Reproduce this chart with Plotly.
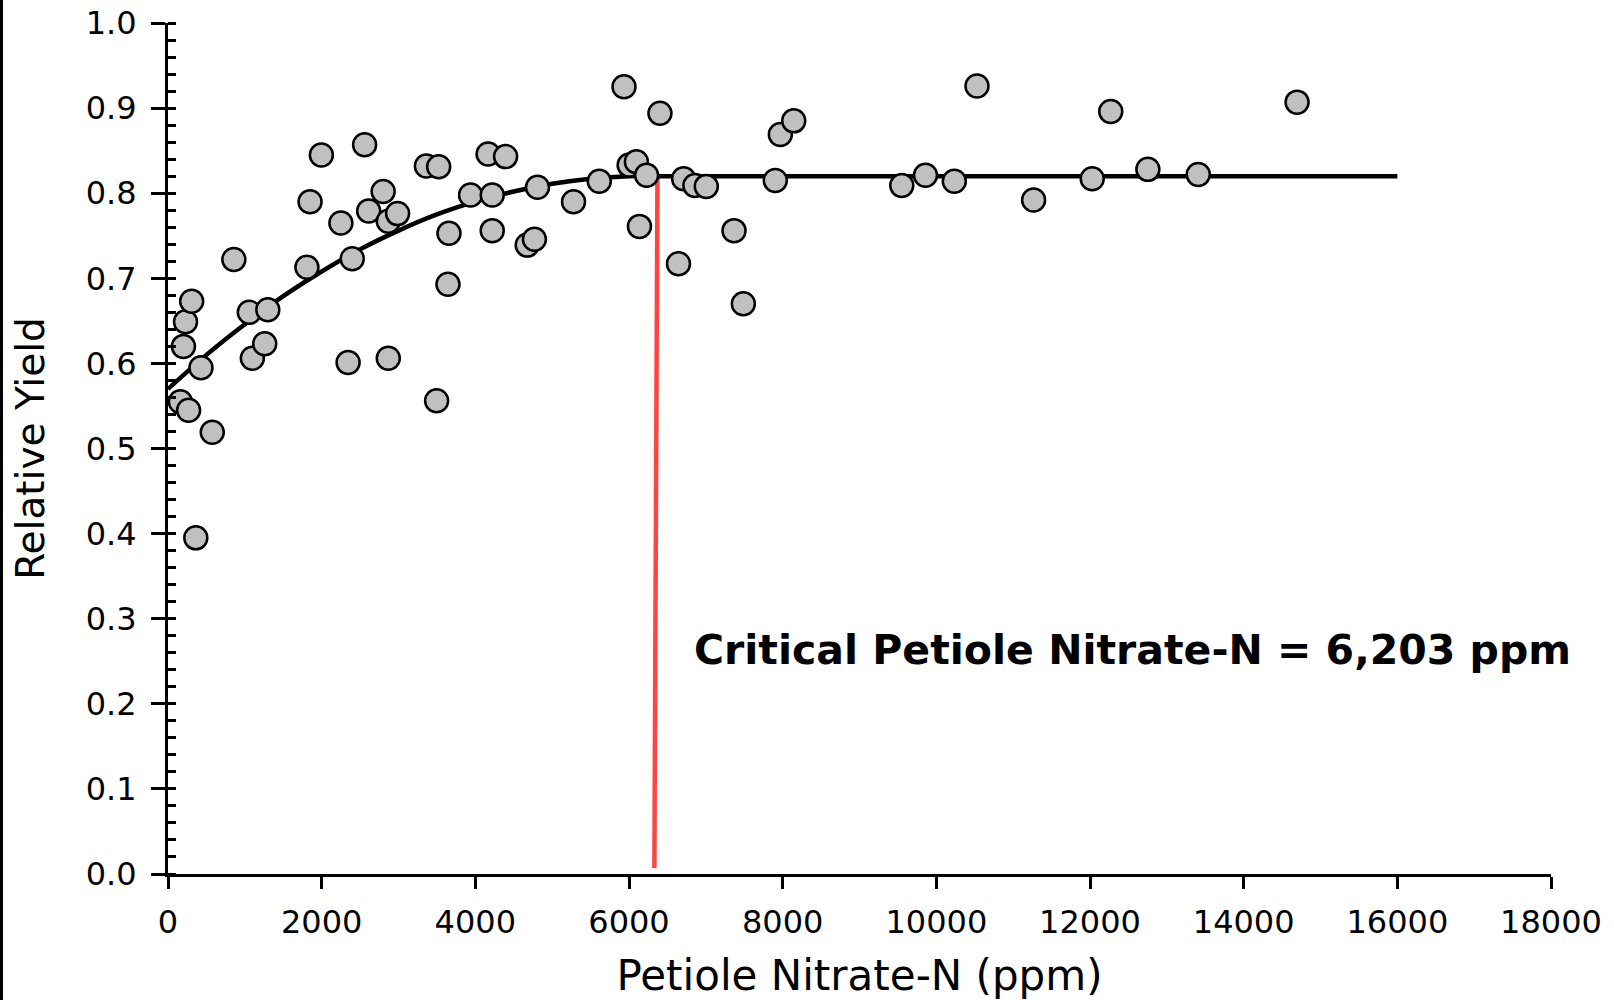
import plotly.graph_objects as go

# Observed data points (Petiole Nitrate-N ppm, Relative Yield)
nitrate_ppm = [161, 268, 201, 228, 308, 429, 362, 576, 857, 1058, 1098, 1259, 1299,
               1808, 1849, 1996, 2250, 2344, 2398, 2559, 2612, 2800, 2867, 2867, 2988,
               3363, 3523, 3496, 3657, 3644, 3938, 4166, 4394, 4220, 4220, 4675, 4769,
               4809, 5278, 5613, 5935, 6002, 6096, 6136, 6229, 6403, 6644, 6711, 6858,
               7006, 7367, 7488, 7970, 8144, 7904, 9550, 9859, 10234, 10529, 11266,
               12029, 12270, 12753, 13409, 14695]
relative_yield = [0.555, 0.545, 0.620, 0.649, 0.673, 0.595, 0.395, 0.519, 0.722, 0.660,
                  0.606, 0.623, 0.663, 0.713, 0.790, 0.845, 0.765, 0.601, 0.723, 0.857,
                  0.779, 0.802, 0.767, 0.606, 0.776, 0.832, 0.831, 0.556, 0.753, 0.693,
                  0.798, 0.846, 0.843, 0.798, 0.756, 0.739, 0.746, 0.807, 0.790, 0.814,
                  0.925, 0.833, 0.837, 0.761, 0.821, 0.894, 0.717, 0.817, 0.809, 0.808,
                  0.756, 0.670, 0.869, 0.885, 0.815, 0.809, 0.821, 0.814, 0.926, 0.792,
                  0.817, 0.896, 0.828, 0.822, 0.907]

# Fitted quadratic-plateau curve
curve_x = [0, 500, 1000, 1500, 2000, 2500, 3000, 3500, 4000, 4500, 5000, 5500, 6000, 6350, 16000]
curve_y = [0.570, 0.610, 0.646, 0.679, 0.708, 0.734, 0.756, 0.775, 0.790, 0.802, 0.811, 0.817, 0.820, 0.820, 0.820]

# Critical level marker line (as drawn)
critical_x = [6370, 6330]
critical_y = [0.820, 0.007]
critical_label = "Critical Petiole Nitrate-N = 6,203 ppm"

x_ticks = [0, 2000, 4000, 6000, 8000, 10000, 12000, 14000, 16000, 18000]
y_ticks = [0.0, 0.1, 0.2, 0.3, 0.4, 0.5, 0.6, 0.7, 0.8, 0.9, 1.0]

W, H = 1614, 1000
ML, MR, MT, MB = 168, 63, 23, 126
PW, PH = W - ML - MR, H - MT - MB

fig = go.Figure()
fig.add_trace(go.Scatter(x=critical_x, y=critical_y, mode="lines",
                         line=dict(color="#FF4444", width=4.5), hoverinfo="skip"))
fig.add_trace(go.Scatter(x=curve_x, y=curve_y, mode="lines",
                         line=dict(color="black", width=4.5, shape="spline", smoothing=0.6)))
fig.add_trace(go.Scatter(x=nitrate_ppm, y=relative_yield, mode="markers",
                         marker=dict(size=23, color="#C0C0C0",
                                     line=dict(color="black", width=2.5))))

fig.add_annotation(x=6820, y=0.263, xref="x", yref="y", text=critical_label,
                   showarrow=False, xanchor="left", yanchor="middle",
                   font=dict(family="DejaVu Sans", size=41, color="black", weight="bold"))

# thin black frame edge at the far left of the image
fig.add_shape(type="rect", xref="paper", yref="paper",
              x0=-ML / PW, x1=(-ML + 3) / PW, y0=-MB / PH, y1=1 + MT / PH,
              fillcolor="black", line=dict(width=0), layer="above")

fig.update_layout(
    width=W, height=H,
    margin=dict(l=ML, r=MR, t=MT, b=MB),
    paper_bgcolor="white", plot_bgcolor="white",
    showlegend=False,
    font=dict(family="DejaVu Sans", color="black"),
)
fig.update_xaxes(
    range=[0, 18000], tickvals=x_ticks, ticktext=[str(v) for v in x_ticks],
    showline=True, linecolor="black", linewidth=3, showgrid=False, zeroline=False,
    ticks="outside", ticklen=12, tickwidth=3, tickcolor="black", automargin=False,
    tickfont=dict(family="DejaVu Sans", size=32), ticklabelstandoff=6,
    title=dict(text="Petiole Nitrate-N (ppm)", font=dict(family="DejaVu Sans", size=42), standoff=22),
)
fig.update_yaxes(
    range=[0, 1.0], tickvals=y_ticks, ticktext=[f"{v:.1f}" for v in y_ticks],
    showline=True, linecolor="black", linewidth=3, showgrid=False, zeroline=False,
    ticks="outside", ticklen=14, tickwidth=3, tickcolor="black", automargin=False,
    minor=dict(ticks="inside", dtick=0.02, ticklen=8, tickwidth=2.5, tickcolor="black", showgrid=False),
    tickfont=dict(family="DejaVu Sans", size=32), ticklabelstandoff=8,
    title=dict(text="Relative Yield", font=dict(family="DejaVu Sans", size=39), standoff=30),
)

fig.write_html("out.html")
